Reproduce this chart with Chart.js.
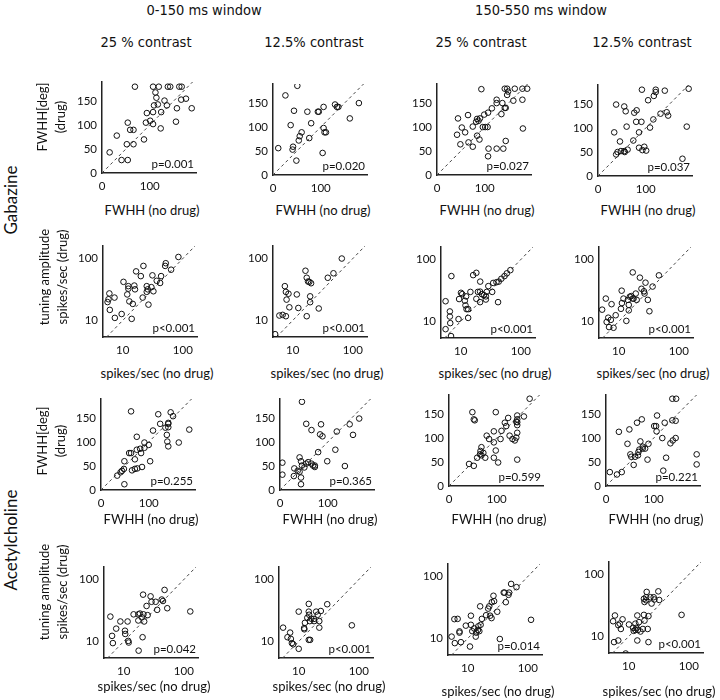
<!DOCTYPE html>
<html>
<head>
<meta charset="utf-8">
<script src="https://cdn.jsdelivr.net/npm/chart.js@4.4.1/dist/chart.umd.min.js"></script>
<style>
html, body { margin: 0; padding: 0; background: #fff; }
#fig { position: relative; width: 720px; height: 700px; overflow: hidden; font-family: Lato, 'Open Sans', sans-serif; color: #111; }
#fig canvas { position: absolute; }
.lbl { position: absolute; white-space: nowrap; transform: translate(-50%, -50%); font-size: 13px; line-height: 18px; text-align: center; }
.hdr { font-family: 'Liberation Sans Narrow', 'DejaVu Sans Condensed', sans-serif; font-stretch: condensed; font-size: 14.5px; }
.rot { transform: translate(-50%, -50%) rotate(-90deg); }
.big { font-size: 17px; }
</style>
</head>
<body>
<div id="fig"></div>
<script>
// tick values
var linTicks = [0, 50, 100, 150];
var linXTicks = [0, 100];
var logTicks = [10, 100];

// Gabazine, FWHH (deg), no drug (x) vs drug (y)
var gabFwE25x = [16,31,41,54,54,52,66,59,66,69,88,92,94,101,107,107,107,109,112,114,117,119,123,124,131,138,143,136,157,155,162,167,166,176,188];
var gabFwE25y = [43,78,27,27,105,60,60,90,90,180,70,105,125,109,102,127,180,141,168,157,143,180,93,127,151,180,180,141,135,107,180,180,153,155,135];
var gabFwE12x = [11,26,51,44,37,42,41,49,54,56,60,76,72,80,94,96,106,106,108,111,104,130,134,137,161,180];
var gabFwE12y = [56,166,186,134,104,59,53,30,72,81,89,77,132,108,132,132,142,98,89,89,46,147,142,142,118,150];
var gabFwL25x = [93,142,147,163,179,189,149,147,160,179,125,125,137,144,142,115,107,99,90,84,82,87,75,96,101,106,65,44,52,59,42,49,66,75,84,89,135,108,125,139,144,107,180];
var gabFwL25y = [179,180,180,180,180,180,174,167,155,157,157,150,150,140,140,139,130,126,118,117,111,113,101,100,100,100,125,118,99,89,84,64,68,59,82,74,127,55,55,55,71,39,97];
var gabFwL12x = [92,121,140,121,117,105,38,55,58,81,76,34,60,80,91,86,109,116,131,144,147,190,186,46,74,41,38,48,55,62,56,86,97,93,101,177];
var gabFwL12y = [180,180,178,175,167,158,149,145,135,137,132,91,103,113,113,91,101,118,130,133,126,182,103,72,74,50,45,52,52,55,50,59,61,54,53,36];

// Gabazine, tuning amplitude (spikes/sec)
var gabAmpE25x = [5.6,6.0,5.8,6.1,7.3,7.4,9.6,10.3,11.9,12.4,12.4,12.9,14.1,14.7,15.6,16,16.7,20,22.1,21.5,25.1,26.1,25.1,26.8,31.2,32.4,36.8,41.9,43.5,50.8,52,63.8,84.4,30];
var gabAmpE25y = [19.8,27.3,22,14.8,23.4,11,12.7,42,26.3,35.8,32.6,20.3,10.6,18.5,36.6,31.8,62,52,76,23.4,35.8,31.8,29,18,53.5,29.6,43.7,40.3,52,76,84,66,106,34.5];
var gabAmpE12x = [5.1,6.0,6.8,7.7,7.4,7.7,8.5,7.9,8.8,11.7,12.4,16.3,17.1,18,18.9,20.2,19.5,19.5,17.1,27.1,38.3,47.6,65.5];
var gabAmpE12y = [6.0,12,12.3,11.7,35.8,28.9,27,21.7,16.3,26.3,15.9,63.5,48.9,42.5,42,39.9,24.5,19.7,11.7,15.6,48.9,57.8,100];
var gabAmpL25x = [5.6,5.6,6.6,6.6,6.7,6.9,7.0,9.4,9.2,10.1,10.6,11.7,12.3,12.0,12.5,13.3,13.3,14.5,16.1,18.2,18.2,19.3,21,21.1,21,22.5,24.3,26.2,27.1,28.8,26.2,33.4,34.7,39.3,42.9,47.4,41.8,53.5,58.5,67];
var gabAmpL25y = [21.2,7.5,14.5,12,9.4,5.8,54,23,10.9,29,27.6,21.6,25.4,18.2,15.8,15.8,11.4,30,56,61,23.2,30,30.3,44,20.5,27.6,26.6,25.4,30,37.2,22.6,30,41.9,43,44,48.9,20.5,54,59.8,67.4];
var gabAmpL12x = [5.3,6.1,6.3,6.7,6.9,7.4,7.6,8.2,8.9,10.9,11.2,11.3,12,13.4,14.2,14.7,14.7,15.3,16.2,17.1,17.7,17.1,19.2,19.9,22.5,23.9,26.3,26.9,27.9,30.5,32.4,36.6,46.6];
var gabAmpL12y = [15.5,23.4,9.8,11.5,8.1,10.6,19,7.9,12.6,16,31.4,19.8,23.4,10.2,22.3,18.5,15.1,25.1,25.7,23.4,23.4,62,28.2,22.3,51,33.7,30.7,28.2,42.3,22.3,14.6,36.6,55.5];

// Acetylcholine, FWHH (deg)
var achFwE25x = [63,120,146,151,141,141,124,135,141,109,185,75,91,100,91,59,63,75,82,84,71,139,141,163,138,49,103,65,71,76,86,48,44,41,34,49];
var achFwE25y = [164,158,162,154,140,138,138,130,131,124,126,111,99,94,88,77,77,84,86,77,64,101,91,99,115,60,60,41,44,45,48,44,40,37,30,12];
var achFwE12x = [46,55,66,86,84,89,119,146,166,153,80,116,99,136,5,5,30,41,44,46,37,29,41,44,44,55,59,66,69,73,73,51];
var achFwE12y = [184,138,125,137,116,112,122,137,149,115,79,84,60,50,57,32,45,68,60,51,40,29,38,26,12,55,58,55,51,48,51,47];
var achFwL25x = [169,49,52,54,98,124,117,120,143,143,143,143,157,141,79,84,94,108,110,127,133,138,143,141,94,98,94,103,143,68,66,72,65,68,59,76,42,52];
var achFwL25y = [182,154,139,137,154,142,132,125,147,139,133,127,145,134,105,98,114,98,115,105,98,95,111,101,91,74,59,49,55,81,73,69,66,64,59,59,46,42];
var achFwL12x = [139,147,139,146,107,75,65,27,49,45,51,53,72,77,82,77,70,68,67,61,58,87,89,101,105,106,123,118,126,135,140,146,120,33,23,8,190,190];
var achFwL12y = [182,182,137,136,147,139,132,113,118,88,66,61,93,82,78,78,76,71,64,61,44,55,88,125,125,114,132,100,59,89,95,100,32,29,24,29,66,45];

// Acetylcholine, tuning amplitude (spikes/sec)
var achAmpE25x = [6.0,6.4,6.6,7.5,8.8,10.5,10.6,11.6,11.9,12.1,14.6,17.5,18.6,17.5,20,21.9,21.3,20.6,17.7,21,24,25,28,29,34,36,42.9,45,47.8,53,128];
var achAmpE25y = [25.2,12.3,9.4,16.1,21,14.9,13.2,21,10.2,9.6,27.4,27.4,28.2,21.8,24.5,21,27.4,11.7,7.1,57,37.4,26.6,53.5,43.7,43.7,32.4,47.5,45,68,34.4,30.5];
var achAmpE12x = [5.5,7.2,6.5,7.4,7.7,8.1,10,10,12.3,12.4,12.7,13.9,14.7,14.7,14.9,15.3,16.2,14.7,15.5,19.5,17.9,22,22,23.3,29.8,18,76.5,20.7];
var achAmpE12y = [16.7,13.9,11.7,11,9.4,9,7.6,30.3,16.4,15.7,20,24.1,40.4,30.3,27,21.3,23.3,10.6,10.6,30.3,23.1,21.3,16.7,31,39.9,21.3,18.2,27];
var achAmpL25x = [5.4,6.1,7.7,6.0,6.8,7.3,7.3,9.3,10.9,11.3,11.3,11.9,12.8,13.6,13.9,14.8,15.6,15,16.4,17.2,16.1,20.2,21.9,22.8,25.2,26.8,27.5,23.6,24.9,31,34.2,39.7,41,43,47.7,48.9,52.7,64.7,113];
var achAmpL25y = [10.7,8.4,8.7,20.5,20.7,12.4,13,16.1,7.4,23.3,16.6,13.1,14.5,10.7,12.4,13.7,13.1,15.7,16.6,20.7,33,23.7,30.3,33,38.5,48.9,40,23.3,21.3,27,9.8,55,55,38.5,50.7,55,76,67.4,20];
var achAmpL12x = [5.5,5.9,5.7,6.7,6.7,7.1,7.4,7.9,8.9,10.1,11.8,12.1,12.9,12.9,13.9,13.4,13.9,14.2,14.8,15.7,17.2,18.3,17.9,18.3,17.9,19.5,19.9,19.5,20.7,21.3,21.3,23,24,26,26.7,31.1,32.2,75.7];
var achAmpL12y = [17.6,21.8,8.1,8.6,15.2,16.1,13.2,18.9,5.3,15.6,13.8,12.3,12.7,16.1,21.8,13.8,8.6,12.7,17,12,13.2,18,22.3,36,40.6,43,52.4,38.3,13.2,8.1,21.3,43,34,43,39.5,53.5,38.8,22.3];

var pValues = [
    ['p=0.001', 'p=0.020', 'p=0.027', 'p=0.037'],
    ['p<0.001', 'p<0.001', 'p<0.001', 'p<0.001'],
    ['p=0.255', 'p=0.365', 'p=0.599', 'p=0.221'],
    ['p=0.042', 'p<0.001', 'p=0.014', 'p<0.001']
];

var fig = document.getElementById('fig');
var PW = 94, PH = 95, PAD_L = 34, PAD_T = 8, PAD_R = 8, PAD_B = 24;
var tickFont = { family: 'Lato', size: 11.5 };

var pvalPlugin = {
    id: 'pval',
    afterDatasetsDraw(chart, args, opts) {
        let ctx = chart.ctx, a = chart.chartArea;
        ctx.save();
        ctx.font = '11.5px Lato';
        ctx.fillStyle = '#111';
        ctx.textAlign = 'right';
        ctx.textBaseline = 'bottom';
        ctx.fillText(opts.text, a.right - 2, a.bottom - 3);
        ctx.restore();
    }
};

function label(html, x, y, cls) {
    let d = document.createElement('div');
    d.className = 'lbl ' + (cls || '');
    d.innerHTML = html;
    d.style.left = x + 'px';
    d.style.top = y + 'px';
    fig.appendChild(d);
}

function axis(log, min, max, ticks, isX) {
    return {
        type: log ? 'logarithmic' : 'linear',
        min: min,
        max: max,
        bounds: 'data',
        grid: { display: false, drawTicks: false },
        border: { display: true, color: '#222', width: 1.5 },
        ticks: { font: tickFont, color: '#111', padding: isX ? 6 : 5, autoSkip: false, maxRotation: 0, callback: v => String(v) },
        afterBuildTicks: s => { s.ticks = ticks.map(v => ({ value: v })); },
        afterFit: s => { if (isX) s.height = PAD_B; else s.width = PAD_L; }
    };
}

function panel(left, bottom, log, xs, ys, pText) {
    let cv = document.createElement('canvas');
    cv.width = PW + PAD_L + PAD_R;
    cv.height = PH + PAD_T + PAD_B;
    cv.style.left = (left - PAD_L) + 'px';
    cv.style.top = (bottom - PH - PAD_T) + 'px';
    fig.appendChild(cv);

    let ref = log ? [5.4, 165] : [0, 192];
    let pts = xs.map((x, i) => ({ x: x, y: ys[i] }));

    new Chart(cv.getContext('2d'), {
        type: 'scatter',
        data: {
            datasets: [{
                type: 'line',
                data: [{ x: ref[0], y: ref[0] }, { x: ref[1], y: ref[1] }],
                borderColor: '#444',
                borderWidth: 1,
                borderDash: [3, 3],
                pointRadius: 0,
                order: 2
            }, {
                data: pts,
                pointRadius: 2.8,
                pointBorderWidth: 1,
                borderColor: '#111',
                backgroundColor: 'rgba(0,0,0,0)',
                order: 1
            }]
        },
        options: {
            responsive: false,
            animation: false,
            events: [],
            layout: { padding: { left: 0, top: PAD_T, right: PAD_R, bottom: 0 } },
            plugins: { legend: { display: false }, tooltip: { enabled: false }, pval: { text: pText } },
            scales: log ? {
                x: axis(true, 4.7, 172, logTicks, true),
                y: axis(true, 5.4, 160, logTicks, false)
            } : {
                x: axis(false, 0, 197, linXTicks, true),
                y: axis(false, 0, 190, linTicks, false)
            }
        },
        plugins: [pvalPlugin]
    });
}

// panel positions: [left of y axis, y of x axis]
var rows = [
    { log: false, L: [102, 273, 437, 598], B: [173, 175, 175, 176], xs: [gabFwE25x, gabFwE12x, gabFwL25x, gabFwL12x], ys: [gabFwE25y, gabFwE12y, gabFwL25y, gabFwL12y] },
    { log: true,  L: [103, 273, 441, 599], B: [337, 337, 338, 338], xs: [gabAmpE25x, gabAmpE12x, gabAmpL25x, gabAmpL12x], ys: [gabAmpE25y, gabAmpE12y, gabAmpL25y, gabAmpL12y] },
    { log: false, L: [101, 280, 449, 606], B: [490, 490, 486, 486], xs: [achFwE25x, achFwE12x, achFwL25x, achFwL12x], ys: [achFwE25y, achFwE12y, achFwL25y, achFwL12y] },
    { log: true,  L: [104, 279, 448, 609], B: [658, 658, 655, 653], xs: [achAmpE25x, achAmpE12x, achAmpL25x, achAmpL12x], ys: [achAmpE25y, achAmpE12y, achAmpL25y, achAmpL12y] }
];

rows.forEach((r, ri) => {
    for (let c = 0; c < 4; c++) {
        panel(r.L[c], r.B[c], r.log, r.xs[c], r.ys[c], pValues[ri][c]);
    }
});

// headers
label('0-150 ms window', 204, 10, 'hdr');
label('150-550 ms window', 541, 10, 'hdr');
label('25 % contrast', 146, 42, 'hdr');
label('12.5% contrast', 314, 42, 'hdr');
label('25 % contrast', 481, 42, 'hdr');
label('12.5% contrast', 642, 42, 'hdr');

// drug labels
label('Gabazine', 11, 200, 'rot big');
label('Acetylcholine', 11, 540, 'rot big');

// y titles
label('FWHH[deg]<br>(drug)', 51, 117, 'rot');
label('tuning amplitude<br>spikes/sec (drug)', 53, 277, 'rot');
label('FWHH[deg]<br>(drug)', 51, 441, 'rot');
label('tuning amplitude<br>spikes/sec (drug)', 53, 592, 'rot');

// x titles
var xTitleY = [210, 373, 519, 686];
var xTitleOff = [50, 54, 50, 50];
rows.forEach((r, ri) => {
    for (let c = 0; c < 4; c++) {
        let t = r.log ? 'spikes/sec (no drug)' : 'FWHH (no drug)';
        let y = xTitleY[ri] + (ri === 3 && c > 1 ? 5 : 0);
        label(t, r.L[c] + xTitleOff[ri], y);
    }
});
</script>
</body>
</html>
